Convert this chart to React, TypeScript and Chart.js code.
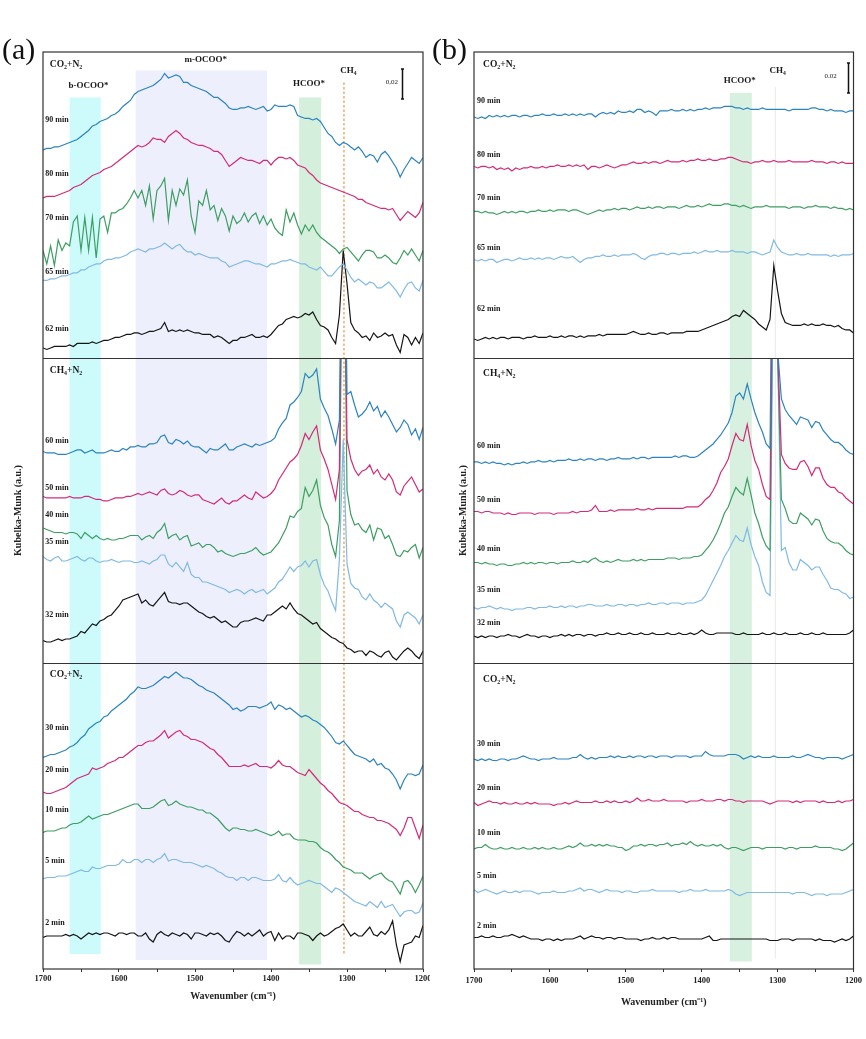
import { useEffect, useRef } from 'react';
import { Chart, registerables } from 'chart.js';

Chart.register(...registerables);

const SERIF = '"Liberation Serif", "Times New Roman", serif';

// Sampling grid of every spectrum (cm^-1)
const WAVENUMBERS = [
  1700, 1695, 1690, 1685, 1680, 1675, 1670, 1665, 1660, 1655,
  1650, 1645, 1640, 1635, 1630, 1625, 1620, 1615, 1610, 1605,
  1600, 1595, 1590, 1585, 1580, 1575, 1570, 1565, 1560, 1555,
  1550, 1545, 1540, 1535, 1530, 1525, 1520, 1515, 1510, 1505,
  1500, 1495, 1490, 1485, 1480, 1475, 1470, 1465, 1460, 1455,
  1450, 1445, 1440, 1435, 1430, 1425, 1420, 1415, 1410, 1405,
  1400, 1395, 1390, 1385, 1380, 1375, 1370, 1365, 1360, 1355,
  1350, 1345, 1340, 1335, 1330, 1325, 1320, 1315, 1310, 1305,
  1300, 1295, 1290, 1285, 1280, 1275, 1270, 1265, 1260, 1255,
  1250, 1245, 1240, 1235, 1230, 1225, 1220, 1215, 1210, 1205,
  1200,
];

// Kubelka-Munk signal in units of 1e-3, relative to each trace's value at 1700 cm^-1.
// Column (a)
const A90 = [
  0, 1, 1, 2, 2, 3, 4, 5, 6, 7,
  9, 11, 13, 16, 17, 19, 20, 21, 23, 24,
  26, 29, 31, 33, 37, 39, 40, 41, 42, 43,
  45, 47, 51, 48, 49, 50, 49, 45, 45, 43,
  42, 41, 40, 39, 37, 35, 35, 33, 31, 28,
  27, 27, 28, 28, 29, 28, 27, 28, 29, 26,
  27, 30, 29, 29, 29, 30, 29, 23, 22, 21,
  21, 20, 21, 19, 15, 11, 9, 5, 3, 5,
  4, 2, 0, 2, -1, -5, -3, -4, -8, -3,
  -1, -4, -8, -12, -18, -13, -9, -5, -7, -9,
  -5,
];
const A80 = [
  0, 1, 1, 1, 2, 3, 4, 5, 7, 8,
  9, 11, 13, 15, 16, 17, 19, 20, 21, 23,
  25, 27, 29, 31, 33, 35, 34, 35, 37, 40,
  39, 39, 37, 41, 43, 45, 43, 40, 39, 37,
  36, 35, 35, 34, 33, 31, 31, 29, 25, 21,
  23, 25, 27, 26, 25, 25, 24, 23, 25, 25,
  22, 25, 27, 27, 26, 27, 25, 22, 21, 20,
  17, 15, 12, 10, 9, 8, 7, 6, 5, 4,
  3, 2, 1, -1, -1, -3, -4, -5, -6, -7,
  -7, -8, -7, -11, -15, -12, -9, -11, -13, -10,
  -3,
];
const A70 = [
  0, -9, 3, -10, 7, 0, 5, 3, 19, 23,
  0, 22, 0, 22, -5, 21, 23, 12, 25, 25,
  27, 28, 31, 35, 40, 35, 40, 30, 43, 21,
  40, 43, 48, 20, 40, 30, 41, 37, 47, 23,
  12, 33, 30, 40, 27, 30, 20, 28, 23, 13,
  23, 18, 20, 25, 19, 23, 25, 18, 23, 17,
  21, 15, 12, 10, 27, 19, 25, 17, 11, 17,
  13, 17, 12, 9, 7, 5, 3, 1, -2, 1,
  2, -1, -4, -7, -3, 0, 0, -1, -5, -5,
  -3, -5, -8, -9, -5, 0, -3, 1, -3, -7,
  0,
];
const A65 = [
  0, 0, 1, 1, 2, 3, 3, 4, 5, 5,
  7, 7, 9, 10, 11, 11, 13, 14, 14, 15,
  15, 16, 17, 19, 20, 21, 20, 19, 21, 21,
  22, 23, 25, 23, 21, 23, 24, 21, 19, 19,
  17, 18, 17, 16, 15, 15, 15, 13, 12, 9,
  10, 11, 12, 13, 13, 12, 11, 11, 10, 9,
  11, 11, 12, 13, 13, 14, 13, 12, 11, 11,
  9, 8, 7, 9, 6, 3, 3, 6, 9, 11,
  7, 2, -1, 1, -1, -3, -1, -2, -5, -5,
  -3, -1, -4, -7, -11, -6, -2, -1, -5, -7,
  0,
];
const A62 = [
  0, -1, 0, 1, 1, 1, 1, 2, 1, 3,
  3, 3, 3, 4, 3, 4, 5, 5, 6, 7,
  7, 8, 9, 9, 10, 10, 9, 10, 11, 11,
  12, 13, 17, 11, 12, 11, 12, 11, 12, 11,
  10, 10, 9, 9, 9, 7, 8, 7, 5, 3,
  5, 5, 7, 7, 8, 9, 7, 7, 8, 7,
  9, 12, 15, 16, 19, 20, 21, 20, 21, 23,
  22, 24, 19, 15, 14, 12, 7, 3, 22, 65,
  43, 17, 12, 10, 7, 8, 5, 10, 7, 8,
  10, 8, 9, 2, -3, 9, 7, 2, 7, 3,
  10,
];
const A60 = [
  0, -1, -1, -1, -2, -2, -2, -1, 0, 1,
  1, -1, 0, 1, -1, -1, -1, 0, 1, 0,
  0, 2, 1, 3, 3, 4, 3, 3, 5, 5,
  6, 10, 11, 6, 5, 8, 7, 5, 7, 4,
  3, 3, 1, -1, 2, 1, 1, 3, 5, 1,
  1, 3, 4, 5, 4, 3, 5, 4, 5, 6,
  7, 9, 15, 19, 22, 31, 33, 36, 40, 52,
  49, 51, 55, 35, 29, 24, 15, 5, 21, 250,
  38, 40, 31, 23, 25, 28, 33, 27, 30, 23,
  27, 23, 18, 13, 16, 21, 18, 11, 15, 8,
  16,
];
const A50 = [
  0, -1, -1, -1, -1, -1, -1, 0, -1, -1,
  -1, 0, 0, -1, -2, -2, -3, -3, -2, -1,
  -1, -1, 0, 0, 1, 2, 1, 2, 3, 2,
  1, 4, 5, 2, 1, 2, 4, 3, 1, 0,
  1, 1, -2, -3, -4, -5, -3, -1, -4, -5,
  -3, -3, -1, 1, -1, -2, 3, 1, -1, 0,
  2, 5, 11, 15, 19, 23, 25, 28, 34, 42,
  38, 43, 47, 31, 25, 18, 8, -2, 18, 250,
  38, 25, 18, 14, 17, 18, 21, 15, 18, 13,
  11, 15, 11, 3, 1, 7, 10, 13, 8, 3,
  5,
];
const A40 = [
  0, -1, -2, -3, -3, -3, -4, -3, -3, -4,
  -7, -3, -5, -7, -5, -7, -8, -7, -8, -8,
  -7, -7, -6, -5, -5, -5, -8, -6, -5, -7,
  -3, -1, 3, -7, -5, -4, -8, -6, -5, -12,
  -11, -10, -13, -11, -11, -13, -16, -15, -17, -18,
  -19, -18, -17, -17, -16, -15, -13, -16, -18, -17,
  -16, -13, -10, -5, 0, 8, 7, 11, 13, 27,
  21, 25, 32, 15, 7, 2, -11, -19, 5, 250,
  25, 9, 2, 3, -1, -3, 2, -8, 0, -1,
  -7, -5, -11, -18, -19, -15, -16, -13, -11, -20,
  -13,
];
const A35 = [
  0, -2, -3, -1, 0, -3, -3, -2, -1, 0,
  -2, -3, -1, -1, -3, -4, -3, -3, -2, -3,
  -4, -3, -3, -3, -4, -4, -3, -4, -5, -3,
  -2, 1, 1, -5, -7, -4, -7, -10, -4, -12,
  -14, -14, -17, -17, -18, -19, -20, -21, -22, -24,
  -23, -22, -23, -25, -23, -22, -24, -23, -22, -25,
  -23, -21, -17, -15, -11, -7, -10, -7, -6, -3,
  -7, -3, -2, -12, -19, -23, -30, -36, -2, 78,
  -5, -18, -21, -22, -27, -29, -25, -29, -31, -34,
  -31, -33, -35, -43, -47, -39, -37, -39, -41, -45,
  -39,
];
const A32 = [
  0, -1, -1, 0, 1, 0, 1, 1, 2, 3,
  6, 5, 8, 11, 10, 13, 14, 16, 17, 20,
  23, 27, 28, 29, 30, 31, 25, 27, 24, 23,
  26, 29, 32, 26, 25, 25, 24, 25, 25, 23,
  21, 19, 18, 16, 15, 16, 14, 12, 13, 11,
  9, 9, 12, 13, 13, 14, 15, 14, 13, 17,
  17, 19, 21, 23, 21, 25, 21, 18, 17, 15,
  13, 11, 12, 8, 6, 4, 2, 1, -1, -2,
  -5, -6, -8, -7, -7, -10, -7, -8, -10, -11,
  -8, -7, -11, -13, -10, -7, -5, -7, -10, -12,
  -7,
];
const A30 = [
  0, 1, 2, 2, 3, 4, 5, 7, 8, 10,
  13, 15, 19, 21, 23, 24, 27, 28, 31, 33,
  35, 37, 39, 42, 44, 47, 46, 46, 47, 48,
  50, 52, 54, 53, 55, 57, 55, 53, 53, 52,
  50, 48, 47, 45, 44, 43, 41, 39, 37, 35,
  32, 33, 31, 32, 34, 34, 34, 33, 34, 35,
  37, 32, 35, 34, 32, 33, 31, 29, 27, 28,
  27, 25, 24, 22, 20, 17, 14, 10, 9, 11,
  8, 5, 2, 1, 0, -1, -3, -1, -5, -4,
  -7, -8, -11, -15, -21, -15, -11, -11, -12, -11,
  -5,
];
const A20 = [
  0, -1, -1, 0, 1, 2, 3, 5, 7, 9,
  10, 11, 12, 16, 15, 16, 17, 19, 20, 21,
  23, 23, 25, 27, 29, 31, 31, 33, 34, 34,
  36, 38, 41, 36, 38, 40, 41, 38, 37, 35,
  35, 34, 33, 31, 29, 28, 25, 23, 20, 17,
  17, 17, 17, 18, 17, 18, 19, 17, 17, 17,
  16, 18, 21, 18, 17, 17, 15, 13, 12, 11,
  15, 12, 9, 6, 4, 1, -1, -4, -7, -8,
  -9, -11, -13, -13, -15, -16, -17, -17, -19, -19,
  -20, -21, -23, -25, -29, -24, -17, -17, -24, -31,
  -22,
];
const A10 = [
  0, 1, 1, 1, 2, 3, 3, 5, 6, 6,
  7, 9, 11, 9, 10, 11, 12, 12, 13, 14,
  15, 16, 17, 18, 19, 19, 16, 16, 16, 17,
  19, 21, 22, 18, 19, 21, 19, 18, 17, 17,
  16, 15, 15, 13, 13, 11, 9, 6, 3, 1,
  3, 3, 2, 2, 1, 1, 2, 1, 0, -1,
  -2, -1, 1, -2, -1, -1, -4, -5, -5, -5,
  -6, -6, -7, -10, -12, -13, -15, -18, -20, -23,
  -24, -25, -27, -27, -27, -29, -31, -29, -28, -27,
  -30, -32, -33, -37, -41, -33, -32, -35, -40, -35,
  -29,
];
const A5 = [
  0, 1, 1, 1, 2, 2, 2, 3, 4, 5,
  6, 5, 5, 8, 7, 7, 8, 9, 9, 9,
  10, 13, 11, 11, 13, 13, 11, 13, 13, 11,
  13, 14, 17, 12, 13, 13, 12, 11, 11, 11,
  10, 9, 8, 9, 8, 7, 5, 4, 2, 1,
  1, -1, 1, 1, -1, 1, 1, 0, -1, -1,
  -1, 0, 3, -1, -2, 1, -2, -4, -3, -2,
  -1, -2, -3, -3, -5, -7, -9, -6, -7, -9,
  -11, -13, -15, -16, -17, -18, -15, -17, -19, -15,
  -19, -18, -17, -21, -25, -22, -21, -21, -23, -22,
  -16,
];
const A2 = [
  0, 1, 1, 1, 1, 1, 2, 1, 2, 1,
  -1, 1, 3, 2, 3, 2, 3, 3, 2, 1,
  3, 3, 2, 3, 3, 1, 1, 3, -1, -3,
  2, 4, 2, 1, 3, 2, 1, 3, 2, -1,
  3, 3, 2, 1, 3, 2, 3, 1, -2, -3,
  1, 4, 3, 1, 3, 1, 3, 5, 1, 3,
  4, -2, 3, -1, 1, 1, -1, 3, 3, 2,
  1, -2, 1, 3, 1, 2, 4, 6, 7, 9,
  5, 1, 3, 1, 1, 4, 7, 2, 1, 4,
  2, 5, 11, -5, -16, -5, -4, -3, 1, 0,
  8,
];

// Column (b)
const B90 = [
  0, -1, 0, -1, 1, 0, 1, 0, 1, 0,
  1, 1, 0, 1, 1, 0, 1, 1, 2, 1,
  1, 2, 1, 1, 2, 1, 2, 1, 2, 1,
  2, 2, 0, 2, 3, 2, 3, 2, 4, 3,
  3, 4, 3, 5, 5, 3, 4, 3, 1, 4,
  4, 4, 5, 4, 4, 5, 4, 5, 4, 5,
  5, 6, 5, 6, 6, 6, 7, 7, 7, 6,
  6, 5, 6, 5, 5, 5, 6, 5, 5, 5,
  5, 5, 5, 4, 5, 5, 5, 5, 5, 6,
  6, 5, 5, 4, 5, 4, 4, 4, 3, 4,
  4,
];
const B80 = [
  0, -1, 0, 0, -1, 0, -2, -1, -2, -1,
  -3, -1, -2, -1, -1, 0, -1, -1, 0, -1,
  0, 0, 1, 0, 0, 1, 0, 1, 0, 1,
  -2, 0, 0, -1, 0, 1, 0, -1, 0, 1,
  1, 2, 3, 2, 2, 3, 2, 3, 3, 2,
  3, 4, 3, 3, 3, 4, 3, 4, 4, 5,
  4, 4, 5, 4, 4, 5, 5, 6, 6, 5,
  4, 3, 3, 2, 3, 3, 4, 3, 3, 4,
  3, 3, 3, 4, 3, 3, 3, 3, 3, 4,
  3, 3, 3, 2, 3, 3, 2, 3, 2, 2,
  2,
];
const B70 = [
  0, 0, -1, 0, -1, -1, -2, -1, 0, -1,
  0, -1, 0, 0, -1, 0, 0, 1, 0, 0,
  1, 0, 1, 1, 1, 0, 1, 1, 0, -1,
  -2, -1, 0, 1, 0, 1, 1, 2, 1, 2,
  2, 1, 2, 3, 2, 2, 3, 2, 3, 3,
  2, 3, 3, 3, 2, 3, 4, 3, 3, 4,
  3, 4, 5, 4, 4, 4, 5, 5, 4, 4,
  3, 4, 3, 2, 3, 3, 3, 4, 3, 3,
  3, 3, 3, 2, 3, 3, 3, 2, 3, 3,
  4, 3, 3, 3, 2, 3, 2, 2, 1, 2,
  1,
];
const B65 = [
  0, -1, 0, -1, 0, 0, -2, -1, 0, 0,
  -1, 0, 1, 0, 0, 1, 0, 1, 0, 1,
  1, 0, 1, 2, 1, 1, 2, 0, -2, 0,
  1, 1, 2, 2, 3, 2, 2, 3, 2, 3,
  3, 3, 4, 3, 1, 0, 2, 3, 3, 4,
  4, 3, 4, 4, 3, 4, 4, 4, 5, 4,
  5, 6, 5, 5, 6, 5, 5, 5, 6, 5,
  5, 5, 4, 5, 5, 4, 3, 4, 5, 13,
  8, 5, 4, 3, 3, 4, 3, 3, 4, 3,
  3, 3, 3, 3, 2, 3, 2, 3, 3, 3,
  4,
];
const B62 = [
  0, -1, 0, 1, 0, 1, 0, 1, 1, 0,
  1, 1, 1, 0, 1, 1, 2, 1, 1, 1,
  2, 1, 1, 2, 1, 2, 2, 1, 2, 1,
  2, 2, 2, 3, 2, 3, 3, 3, 3, 3,
  3, 4, 5, 4, 3, 3, 4, 3, 3, 4,
  4, 3, 4, 4, 4, 4, 5, 5, 5, 5,
  6, 7, 8, 9, 10, 11, 12, 13, 15, 16,
  15, 19, 17, 15, 13, 10, 8, 6, 13, 49,
  32, 17, 11, 10, 9, 9, 9, 10, 9, 10,
  9, 9, 10, 9, 9, 8, 9, 7, 6, 6,
  4,
];
const B60 = [
  0, 0, -1, 0, -1, 0, -1, -1, -2, -1,
  -2, -1, -1, 0, -1, 0, 0, 1, 0, 0,
  1, 0, 1, 1, 1, 2, 1, 1, 2, 1,
  2, 2, 1, 2, 2, 1, 2, 2, 3, 2,
  2, 2, 3, 2, 3, 3, 2, 3, 3, 3,
  3, 3, 3, 4, 3, 4, 4, 3, 3, 4,
  6, 8, 10, 12, 15, 18, 22, 26, 33, 44,
  46, 42, 52, 42, 33, 26, 20, 12, 9, 250,
  75, 42, 35, 31, 28, 25, 30, 29, 28, 23,
  27, 26, 21, 18, 15, 13, 13, 11, 8, 6,
  5,
];
const B50 = [
  0, 0, -1, 0, 0, -1, -1, -1, -2, -1,
  -2, -2, -1, -1, -1, -1, -2, -1, -1, -1,
  -1, -2, -1, -1, -1, -1, 0, -1, 0, 0,
  0, 1, 4, 0, 0, 0, 1, 0, 1, 1,
  1, 1, 1, 2, 1, 1, 2, 1, 2, 2,
  2, 2, 2, 2, 2, 2, 3, 3, 3, 3,
  5, 8, 10, 14, 19, 26, 30, 35, 44, 52,
  48, 47, 58, 44, 34, 28, 18, 10, 8, 250,
  110, 38, 32, 29, 28, 28, 33, 34, 30, 24,
  29, 29, 22, 18, 16, 16, 13, 12, 9, 7,
  5,
];
const B40 = [
  0, 0, -1, 0, -1, -1, -2, -1, -1, -2,
  -2, -1, -1, 0, -1, 0, -1, 0, 0, -1,
  0, 0, -1, 0, 0, 0, 1, 0, 0, 1,
  0, 2, 3, 1, 0, 1, 0, 1, 2, 1,
  1, 1, 2, 1, 2, 1, 2, 2, 2, 2,
  2, 3, 3, 3, 2, 3, 3, 3, 4, 4,
  5, 8, 11, 15, 20, 26, 33, 37, 44, 50,
  47, 45, 56, 45, 33, 26, 17, 11, 8, 250,
  140, 42, 36, 28, 26, 26, 33, 31, 29, 25,
  29, 28, 21, 16, 14, 13, 13, 11, 8, 6,
  5,
];
const B35 = [
  0, -1, 0, 0, 1, 0, -1, 0, -1, -1,
  -2, -1, -1, -1, 0, 0, -1, 0, 0, 0,
  1, 0, 0, 1, 0, 1, 1, 0, 1, 1,
  2, 2, 1, 1, 1, 2, 1, 1, 2, 2,
  1, 2, 2, 1, 2, 2, 3, 2, 2, 3,
  3, 2, 3, 3, 3, 2, 3, 3, 3, 4,
  5, 8, 13, 18, 23, 28, 34, 38, 43, 48,
  45, 44, 53, 42, 34, 28, 17, 10, 8, 250,
  170, 38, 40, 30, 25, 25, 32, 30, 28, 25,
  27, 27, 22, 18, 13, 12, 12, 10, 9, 6,
  7,
];
const B32 = [
  0, -1, 0, -1, 0, 0, -1, 0, 0, 1,
  0, 0, -1, 0, 1, 0, 0, -1, 0, 0,
  -1, 0, 0, 1, 0, 1, 0, 1, 1, 0,
  1, 1, 0, 1, 1, 2, 1, 1, 2, 1,
  1, 2, 1, 1, 2, 1, 1, 2, 1, 1,
  1, 2, 1, 1, 2, 1, 1, 2, 1, 2,
  4, 2, 1, 1, 2, 2, 2, 2, 2, 1,
  1, 2, 1, 1, 1, 1, 2, 1, 1, 2,
  1, 1, 2, 1, 1, 1, 2, 1, 1, 2,
  1, 1, 2, 1, 1, 1, 1, 1, 1, 2,
  4,
];
const B30 = [
  0, -1, 0, -1, 0, -1, -1, 0, 0, -1,
  0, 0, 1, 2, 1, 0, 0, -1, 0, 0,
  0, 1, 0, 0, 0, 0, 1, 1, 3, 1,
  0, 1, 0, 1, 1, 1, 2, 1, 2, 1,
  1, 2, 1, 2, 2, 1, 2, 2, 1, 2,
  2, 2, 1, 2, 2, 2, 2, 1, 2, 2,
  2, 5, 3, 2, 2, 2, 2, 3, 3, 3,
  2, 0, 1, 2, 1, 2, 1, 1, 1, 2,
  1, 1, 1, 1, 2, 1, 1, 2, 3, 2,
  1, 1, 0, 1, 1, 1, 1, 0, 1, 2,
  3,
];
const B20 = [
  0, -2, -1, 0, 1, 0, 0, -1, 0, -1,
  -1, 0, -1, -1, 0, -1, 0, -1, -1, -1,
  -1, -2, -1, -1, 0, -1, 0, 1, 0, 0,
  0, 0, 1, 0, 0, 1, 0, 1, 0, 0,
  1, 0, 1, 3, 1, 1, 2, 1, 1, 1,
  2, 1, 1, 1, 1, 1, 0, 1, 1, 1,
  2, 1, 1, 1, 2, 2, 1, 2, 2, 1,
  1, 0, 1, 1, 1, 1, 1, 0, -1, 0,
  1, 1, 1, 1, 0, 1, 0, 1, 1, 1,
  1, 0, 1, 0, 0, 0, 1, 0, 1, 1,
  2,
];
const B10 = [
  0, 1, 1, 3, 1, 0, 0, 1, 0, 0,
  1, 0, 0, 1, 0, 0, 1, 0, 1, 0,
  0, 1, 0, 0, 1, 2, 1, 2, 4, 2,
  2, 3, 2, 3, 2, 3, 2, 2, 1, 1,
  -1, 0, 2, 2, 3, 2, 3, 3, 2, 3,
  3, 4, 2, 3, 3, 4, 3, 5, 3, 2,
  3, 2, 2, 3, 2, 3, 1, 0, 1, 1,
  0, -1, 0, 1, 1, 1, 0, 1, 1, 1,
  1, 1, 0, 1, 1, 0, 1, 1, 1, 1,
  2, 1, 1, 1, 1, 0, 0, -1, 0, 2,
  4,
];
const B5 = [
  0, -2, -1, 0, -1, -2, -3, -2, -1, -2,
  -2, -1, -2, -1, -1, -1, -2, -3, -2, -2,
  -2, -1, -2, -2, -2, -1, -1, 0, 1, -1,
  0, 0, -1, -2, -1, 0, -1, -1, -1, -2,
  -1, -1, -2, -2, -1, -1, -1, 0, -1, -1,
  -1, -1, -1, -1, -2, -1, -1, 0, -1, -1,
  -1, 0, -1, -1, -1, -1, -1, 0, -1, -3,
  -4, -3, -2, -2, -2, -2, -2, -2, -2, -2,
  -2, -2, -2, -2, -3, -2, -2, -2, -3, -4,
  -3, -3, -3, -4, -3, -3, -3, -3, -2, -1,
  0,
];
const B2 = [
  0, 0, 1, 0, 0, 1, 0, 0, 1, 1,
  2, 1, 0, 1, 0, -1, -1, -1, -2, -1,
  -1, -2, -1, -2, -1, -1, -1, 0, 1, -1,
  0, 1, 0, 0, -1, 0, 0, -1, 0, 0,
  -1, -1, -1, -1, -2, -1, -1, 0, -1, -1,
  0, -1, 0, 0, -1, -1, -1, -1, -1, -1,
  -1, 0, 1, -2, -2, -1, -1, -1, -1, -1,
  -1, -1, -1, -1, -1, -1, -1, -1, -2, -2,
  -2, -1, -1, -1, -2, -1, -1, -1, -1, -1,
  -2, -1, -2, -2, -2, -3, -2, -1, -2, -1,
  1,
];

// Series order: top panel (CO2+N2), middle panel (CH4+N2), bottom panel (CO2+N2)
const TIMES = [
  '90 min', '80 min', '70 min', '65 min', '62 min',
  '60 min', '50 min', '40 min', '35 min', '32 min',
  '30 min', '20 min', '10 min', '5 min', '2 min',
];
const SPECTRA_A = [A90, A80, A70, A65, A62, A60, A50, A40, A35, A32, A30, A20, A10, A5, A2];
const SPECTRA_B = [B90, B80, B70, B65, B62, B60, B50, B40, B35, B32, B30, B20, B10, B5, B2];

// Vertical stacking offsets (same 1e-3 units)
const OFFSETS_A = [546, 514, 479, 459, 414, 345, 315, 294, 275, 219, 141, 118, 91, 60, 21];
const OFFSETS_B = [568, 535, 505, 473, 420, 338, 305, 271, 241, 222, 140, 111, 80, 53, 21];

// Heights at which the time labels sit
const LABEL_Y_A = [566, 530, 501, 465, 427, 352, 321, 303, 285, 236, 161, 133, 106, 72, 31];
const LABEL_Y_B = [579, 543, 514, 481, 440, 349, 313, 280, 253, 231, 150, 121, 91, 62, 29];

// Atmosphere of each panel, top to bottom ("_" marks a subscript)
const GASES = ['CO_2+N_2', 'CH_4+N_2', 'CO_2+N_2'];
const GAS_Y_A = [603, 399, 196];
const GAS_Y_B = [603, 397, 193];

// Panel boundaries on the stacked axis, bottom to top
const PANEL_EDGES = [0, 204, 407.3, 611.3];
const Y_MAX = 611.3;
const SCALE_BAR = 20; // 0.02 a.u.

const COLORS = ['#2b83c0', '#d42a7a', '#3d9e62', '#80b9e6', '#151515'];

type Band = { from: number; to: number; low: number; high: number; fill: string; label?: string; labelX?: number; labelY?: number };

const BANDS_A: Band[] = [
  { from: 1665, to: 1624, low: 10, high: 581, fill: '#cdfbfb', label: 'b-OCOO*', labelX: 1640, labelY: 589 },
  { from: 1578, to: 1405, low: 6, high: 599, fill: '#edf0fc', label: 'm-OCOO*', labelX: 1486, labelY: 606 },
  { from: 1363, to: 1334, low: 3, high: 581, fill: '#d4efdc', label: 'HCOO*', labelX: 1350, labelY: 590 },
];
const BANDS_B: Band[] = [
  { from: 1363, to: 1334, low: 5, high: 584, fill: '#d7f0df', label: 'HCOO*', labelX: 1350, labelY: 592 },
];

const COLUMN_A = {
  letter: '(a)',
  width: 440,
  padding: { left: 10, right: 17, top: 52, bottom: 37 },
  yAxisWidth: 33,
  yTitlePad: 2,
  xAxisHeight: 33,
  tickPad: 2,
  spectra: SPECTRA_A,
  offsets: OFFSETS_A,
  labelY: LABEL_Y_A,
  labelX: 1697,
  gasY: GAS_Y_A,
  gasX: 1691,
  bands: BANDS_A,
  marker: { at: 1304, low: 9, high: 591, color: '#e8a964', dash: [2.5, 2], width: 1.4, labelX: 1298, labelY: 599 },
  bar: { at: 1228, low: 580, text: '0,02', textX: 1241, textY: 591 },
};
const COLUMN_B = {
  letter: '(b)',
  width: 436,
  padding: { left: 27, right: 12, top: 52, bottom: 31 },
  yAxisWidth: 17,
  yTitlePad: 0,
  xAxisHeight: 39,
  tickPad: 4,
  spectra: SPECTRA_B,
  offsets: OFFSETS_B,
  labelY: LABEL_Y_B,
  labelX: 1696,
  gasY: GAS_Y_B,
  gasX: 1688,
  bands: BANDS_B,
  marker: { at: 1303, low: 7, high: 588, color: '#e9e9e9', dash: [], width: 1, labelX: 1300, labelY: 599 },
  bar: { at: 1207, low: 584, text: '0.02', textX: 1230, textY: 595 },
};

function drawChem(ctx: CanvasRenderingContext2D, formula: string, x: number, y: number, size: number, align: string) {
  const pieces: { text: string; sub: boolean }[] = [];
  for (let i = 0; i < formula.length; i++) {
    if (formula[i] === '_' && i + 1 < formula.length) {
      pieces.push({ text: formula[i + 1], sub: true });
      i++;
    } else {
      pieces.push({ text: formula[i], sub: false });
    }
  }
  const mainFont = `bold ${size}px ${SERIF}`;
  const subFont = `bold ${Math.round(size * 0.62 * 10) / 10}px ${SERIF}`;
  let total = 0;
  for (const p of pieces) {
    ctx.font = p.sub ? subFont : mainFont;
    total += ctx.measureText(p.text).width;
  }
  let cx = align === 'center' ? x - total / 2 : x;
  ctx.textAlign = 'left';
  ctx.textBaseline = 'middle';
  for (const p of pieces) {
    ctx.font = p.sub ? subFont : mainFont;
    ctx.fillText(p.text, cx, p.sub ? y + size * 0.3 : y);
    cx += ctx.measureText(p.text).width;
  }
}

function decorations(col: any) {
  return {
    id: 'spectraDecor',
    beforeDatasetsDraw(chart: any) {
      const { ctx, scales } = chart;
      const xs = scales.x;
      const ys = scales.y;
      ctx.save();
      for (const b of col.bands) {
        const x1 = xs.getPixelForValue(b.from);
        const x2 = xs.getPixelForValue(b.to);
        const y1 = ys.getPixelForValue(b.high);
        const y2 = ys.getPixelForValue(b.low);
        ctx.fillStyle = b.fill;
        ctx.fillRect(Math.min(x1, x2), y1, Math.abs(x2 - x1), y2 - y1);
      }
      const m = col.marker;
      const mx = xs.getPixelForValue(m.at);
      ctx.strokeStyle = m.color;
      ctx.lineWidth = m.width;
      ctx.setLineDash(m.dash);
      ctx.beginPath();
      ctx.moveTo(mx, ys.getPixelForValue(m.high));
      ctx.lineTo(mx, ys.getPixelForValue(m.low));
      ctx.stroke();
      ctx.restore();
    },
    beforeDatasetDraw(chart: any, args: any) {
      const { ctx, chartArea, scales } = chart;
      const ds = chart.data.datasets[args.index];
      const top = scales.y.getPixelForValue(PANEL_EDGES[ds.panel + 1]);
      const bottom = scales.y.getPixelForValue(PANEL_EDGES[ds.panel]);
      ctx.save();
      ctx.beginPath();
      ctx.rect(chartArea.left, top, chartArea.right - chartArea.left, bottom - top);
      ctx.clip();
    },
    afterDatasetDraw(chart: any) {
      chart.ctx.restore();
    },
    afterDatasetsDraw(chart: any) {
      const { ctx, chartArea, scales } = chart;
      const xs = scales.x;
      const ys = scales.y;
      ctx.save();

      // frame and panel separators
      ctx.strokeStyle = '#333';
      ctx.lineWidth = 1.2;
      ctx.strokeRect(chartArea.left, chartArea.top, chartArea.right - chartArea.left, chartArea.bottom - chartArea.top);
      for (const edge of [PANEL_EDGES[1], PANEL_EDGES[2]]) {
        const py = Math.round(ys.getPixelForValue(edge)) + 0.5;
        ctx.beginPath();
        ctx.moveTo(chartArea.left, py);
        ctx.lineTo(chartArea.right, py);
        ctx.stroke();
      }

      ctx.fillStyle = '#1a1a1a';

      // time labels
      ctx.font = `bold 8px ${SERIF}`;
      ctx.textAlign = 'left';
      ctx.textBaseline = 'middle';
      TIMES.forEach((t, i) => {
        ctx.fillText(t, xs.getPixelForValue(col.labelX), ys.getPixelForValue(col.labelY[i]));
      });

      // panel atmospheres
      GASES.forEach((g, k) => {
        drawChem(ctx, g, xs.getPixelForValue(col.gasX), ys.getPixelForValue(col.gasY[k]), 9.5, 'left');
      });

      // band captions
      ctx.font = `bold 9px ${SERIF}`;
      ctx.textAlign = 'center';
      ctx.textBaseline = 'middle';
      for (const b of col.bands) {
        if (b.label) ctx.fillText(b.label, xs.getPixelForValue(b.labelX), ys.getPixelForValue(b.labelY));
      }
      drawChem(ctx, 'CH_4', xs.getPixelForValue(col.marker.labelX), ys.getPixelForValue(col.marker.labelY), 9, 'center');

      // 0.02 scale bar
      const bar = col.bar;
      const bx = Math.round(xs.getPixelForValue(bar.at)) + 0.5;
      const by1 = ys.getPixelForValue(bar.low + SCALE_BAR);
      const by2 = ys.getPixelForValue(bar.low);
      ctx.strokeStyle = '#111';
      ctx.lineWidth = 1.5;
      ctx.beginPath();
      ctx.moveTo(bx, by1);
      ctx.lineTo(bx, by2);
      ctx.moveTo(bx - 1.5, by1);
      ctx.lineTo(bx + 1.5, by1);
      ctx.moveTo(bx - 1.5, by2);
      ctx.lineTo(bx + 1.5, by2);
      ctx.stroke();
      ctx.font = `7px ${SERIF}`;
      ctx.textAlign = 'center';
      ctx.fillText(bar.text, xs.getPixelForValue(bar.textX), ys.getPixelForValue(bar.textY));

      // column letter
      ctx.font = `30px ${SERIF}`;
      ctx.textAlign = 'left';
      ctx.textBaseline = 'alphabetic';
      ctx.fillStyle = '#111';
      ctx.fillText(col.letter, 2, 59);

      ctx.restore();
    },
  };
}

function buildChart(canvas: HTMLCanvasElement, col: any) {
  const datasets = col.spectra.map((values: number[], i: number) => ({
    label: TIMES[i],
    data: values.map((v, k) => ({ x: WAVENUMBERS[k], y: col.offsets[i] + v })),
    borderColor: COLORS[i % 5],
    borderWidth: 1.2,
    pointRadius: 0,
    pointHoverRadius: 0,
    tension: 0,
    fill: false,
    panel: 2 - Math.floor(i / 5),
  }));

  return new Chart(canvas, {
    type: 'line',
    data: { datasets },
    options: {
      responsive: false,
      animation: false,
      devicePixelRatio: 1,
      parsing: false,
      events: [],
      layout: { padding: col.padding },
      plugins: { legend: { display: false }, tooltip: { enabled: false }, title: { display: false } },
      scales: {
        x: {
          type: 'linear',
          reverse: true,
          min: 1200,
          max: 1700,
          afterFit: (s: any) => { s.height = col.xAxisHeight; },
          ticks: {
            stepSize: 50,
            autoSkip: false,
            maxRotation: 0,
            padding: col.tickPad,
            color: '#222',
            font: { family: SERIF, size: 8.5, weight: 'bold' },
            callback: (v: any) => (Number(v) % 100 === 0 ? String(v) : ''),
          },
          grid: { display: true, drawOnChartArea: false, drawTicks: true, tickLength: 3, color: '#333', lineWidth: 1 },
          border: { display: false },
          title: {
            display: true,
            text: 'Wavenumber (cm⁻¹)',
            color: '#222',
            padding: 0,
            font: { family: SERIF, size: 10, weight: 'bold' },
          },
        },
        y: {
          type: 'linear',
          min: 0,
          max: Y_MAX,
          afterFit: (s: any) => { s.width = col.yAxisWidth; },
          ticks: { display: false },
          grid: { display: false },
          border: { display: false },
          title: {
            display: true,
            text: 'Kubelka-Munk (a.u.)',
            color: '#222',
            padding: { top: col.yTitlePad, bottom: 0 },
            font: { family: SERIF, size: 10, weight: 'bold' },
          },
        },
      },
    } as any,
    plugins: [decorations(col)],
  });
}

export default function App() {
  const refA = useRef<HTMLCanvasElement | null>(null);
  const refB = useRef<HTMLCanvasElement | null>(null);

  useEffect(() => {
    const charts: Chart[] = [];
    if (refA.current) charts.push(buildChart(refA.current, COLUMN_A));
    if (refB.current) charts.push(buildChart(refB.current, COLUMN_B));
    return () => charts.forEach((c) => c.destroy());
  }, []);

  return (
    <div style={{ position: 'absolute', left: 0, top: 0, width: 866, height: 1039, background: '#fff', overflow: 'hidden' }}>
      <div style={{ position: 'absolute', left: 0, top: 0, width: COLUMN_A.width, height: 1039 }}>
        <canvas ref={refA} width={COLUMN_A.width} height={1039} style={{ display: 'block' }} />
      </div>
      <div style={{ position: 'absolute', left: 430, top: 0, width: COLUMN_B.width, height: 1039, background: '#fff' }}>
        <canvas ref={refB} width={COLUMN_B.width} height={1039} style={{ display: 'block' }} />
      </div>
    </div>
  );
}
